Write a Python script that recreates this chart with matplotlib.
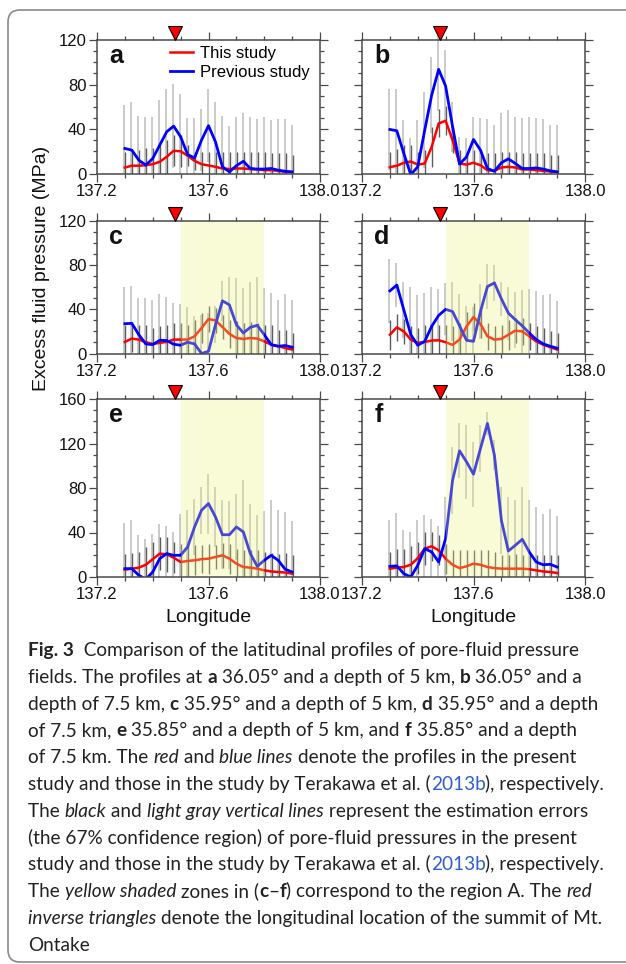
import numpy as np
import matplotlib
matplotlib.use('Agg')
import matplotlib.pyplot as plt
from matplotlib.ticker import MultipleLocator, FormatStrFormatter
from matplotlib.patches import FancyBboxPatch
from matplotlib.transforms import IdentityTransform, blended_transform_factory

plt.rcParams['font.family'] = ['Liberation Sans', 'DejaVu Sans']

# longitude grid of the profiles
lon = np.array([137.300, 137.325, 137.350, 137.375, 137.400, 137.425, 137.450, 137.475,
                137.500, 137.525, 137.550, 137.575, 137.600, 137.625, 137.650, 137.675,
                137.700, 137.725, 137.750, 137.775, 137.800, 137.825, 137.850, 137.875,
                137.900])
ontake = 137.48
region_a = (137.5, 137.8)

# (a) 36.05 deg, 5 km
a_this = [5.4, 7.0, 7.0, 7.5, 8.4, 10.5, 15.0, 20.4, 20.0, 16.0, 11.4, 8.4, 7.2, 6.0, 4.5,
          4.0, 4.5, 4.5, 4.0, 3.6, 3.0, 3.0, 2.4, 1.5, 1.2]
a_this_hi = [19.5, 20.4, 21.0, 22.5, 22.5, 25.5, 30.0, 34.5, 34.5, 25.5, 19.5, 19.5, 19.5,
             19.5, 19.5, 19.5, 19.5, 19.5, 19.5, 19.5, 19.0, 18.0, 18.0, 18.0, 16.5]
a_prev = [22.5, 21.0, 12.0, 7.5, 13.5, 25.5, 37.5, 42.6, 33.0, 17.0, 14.0, 30.0, 43.0, 28.5,
          6.0, 1.5, 7.0, 11.0, 4.5, 4.0, 4.0, 4.5, 3.0, 2.0, 1.5]
a_prev_hi = [62, 64.5, 51.6, 50.4, 51, 66, 76, 80.4, 71.4, 49.5, 49.5, 57.6, 76, 64, 51.6,
             43, 51, 54.6, 50.4, 49, 51, 48, 49, 48.6, 44]

# (b) 36.05 deg, 7.5 km
b_this = [5.7, 7.0, 9.6, 10.8, 8.0, 9.0, 24.0, 45.0, 47.4, 30.0, 9.0, 8.0, 9.6, 7.5, 3.0,
          2.4, 5.4, 6.0, 5.4, 3.6, 3.6, 3.0, 2.4, 1.8, 1.2]
b_this_hi = [19.5, 22, 25.5, 25.5, 19.5, 21, 42, 57.6, 60.6, 42, 21, 19.5, 21, 21, 18, 18,
             19.5, 19.5, 19.5, 18.6, 18.6, 18.6, 18, 16.5, 16.5]
b_prev = [39.6, 38.4, 18.0, -1.0, 6.0, 39.0, 70.5, 93.6, 78.6, 42.0, 8.4, 15.0, 30.6, 21.0,
          4.5, 2.0, 9.6, 13.2, 9.0, 4.5, 4.5, 5.0, 4.0, 2.4, 1.5]
b_prev_hi = [76, 76, 48, 31.5, 48, 73.5, 105, 131, 111, 64.5, 33, 31.5, 51, 49.5, 49, 44,
             54, 57, 51, 49.5, 51, 50, 49, 44, 44]

# (c) 35.95 deg, 5 km
c_this = [10.5, 13.5, 12.6, 10.2, 8.7, 9.6, 10.5, 12.6, 12.6, 12.6, 15.6, 23.0, 31.2, 30.0,
          24.0, 17.7, 14.0, 13.2, 14.0, 13.5, 11.0, 8.0, 6.6, 5.0, 3.6]
c_this_hi = [26, 26, 26, 26, 23, 25, 26, 27.6, 27.6, 25.5, 30.6, 36.6, 43.2, 41, 35, 30.6,
             29, 27.6, 28.2, 27.6, 26, 26, 21.6, 21.6, 18.6]
c_prev = [27.0, 27.3, 17.0, 8.7, 8.0, 12.0, 11.7, 8.4, 7.5, 10.2, 8.7, 0.0, 2.0, 26.0, 47.7,
          44.0, 26.0, 18.6, 23.7, 25.5, 17.0, 8.0, 6.6, 7.2, 5.7]
c_prev_hi = [60, 61.5, 50.7, 50.7, 48.6, 53.7, 51, 45.6, 44.7, 42, 33.6, 35, 36.6, 42.6,
             65.7, 69, 68, 59, 65, 69.6, 59, 54.6, 48.6, 53.7, 48.6]

# (d) 35.95 deg, 7.5 km
d_this = [17.0, 23.7, 20.0, 12.6, 9.6, 10.5, 11.7, 12.0, 10.2, 7.8, 12.6, 24.6, 33.0, 26.7,
          15.6, 12.6, 13.2, 17.0, 20.7, 20.0, 15.6, 11.0, 8.0, 5.7, 3.6]
d_this_hi = [30.6, 36, 31.5, 25, 23, 26, 26, 26, 26, 24.6, 27.6, 37.5, 45.6, 39.6, 27.6,
             24.6, 26, 30.6, 32, 32, 27.6, 24.6, 23, 20.7, 19]
d_prev = [56.7, 62.0, 39.6, 17.0, 7.5, 11.0, 24.6, 34.5, 40.0, 38.0, 25.0, 12.0, 11.0, 38.0,
          60.6, 64.0, 49.5, 36.6, 30.6, 25.0, 18.6, 12.6, 8.7, 6.6, 4.8]
d_prev_hi = [86, 82, 65, 60, 53, 55, 60, 58.5, 63.6, 65, 53.7, 43, 42, 62.7, 80.7, 80, 65,
             60.6, 56, 57.6, 58, 57, 53, 53.7, 47.7]

# (e) 35.85 deg, 5 km
e_this = [6.6, 7.5, 8.4, 11.0, 16.0, 21.0, 20.4, 17.4, 13.5, 14.4, 15.0, 16.0, 16.5, 18.0,
          19.5, 16.5, 12.0, 9.0, 8.4, 7.5, 6.0, 5.0, 4.5, 4.0, 3.0]
e_this_hi = [21, 21.6, 22.5, 27, 31.5, 36, 36, 31.5, 30, 30, 28.5, 28.5, 30, 28.5, 30.6, 30,
             25.5, 24, 24.6, 24, 22.5, 21.6, 21, 21.6, 19.5]
e_prev = [7.5, 7.5, 1.5, -2.0, 4.5, 16.5, 21.0, 19.5, 19.5, 27.0, 45.0, 60.0, 66.0, 54.0,
          38.0, 38.0, 45.0, 40.5, 21.0, 9.6, 15.0, 19.5, 15.0, 7.0, 4.5]
e_prev_hi = [48.6, 51, 37.5, 34.5, 38.4, 48, 46, 40.5, 57, 60, 70.5, 81, 93, 81, 69, 68.4,
             75, 87, 66, 55.5, 59, 69, 60, 58, 50.4]

# (f) 35.85 deg, 7.5 km
f_this = [7.5, 8.4, 9.0, 11.0, 17.0, 25.5, 27.6, 24.0, 16.5, 11.0, 8.0, 9.6, 12.0, 11.0, 9.0,
          8.0, 7.5, 7.5, 7.5, 7.5, 7.0, 6.0, 5.0, 4.5, 3.6]
f_this_hi = [22.5, 25.5, 25.5, 27.6, 31.5, 40.5, 40.5, 37.5, 30, 24, 24, 24, 24, 24, 24,
             22.5, 19.5, 19.5, 21, 19.5, 21, 20, 19.5, 19.5, 19.5]
f_prev = [9.6, 10.0, 3.0, 0.0, 10.5, 25.5, 22.5, 13.5, 34.5, 87.0, 113.4, 103.5, 92.4, 115.5,
          138.0, 109.5, 51.0, 23.4, 28.5, 33.9, 22.5, 13.5, 11.0, 11.4, 9.0]
f_prev_hi = [51.6, 57.6, 42, 40.5, 51, 55.5, 52.5, 46, 72, 117, 138, 136.5, 121.5, 136.5,
             148.5, 123, 81, 72, 69, 81, 69, 63, 57, 61.5, 54.6]

W, H = 626, 964
fig = plt.figure(figsize=(W / 100, H / 100), dpi=100)

cols = [(97, 320), (362, 585)]
rows = [(40, 173.5, 120), (221, 353.5, 120), (399, 577, 160)]

panels = [
    ('a', a_this, a_this_hi, a_prev, a_prev_hi, False),
    ('b', b_this, b_this_hi, b_prev, b_prev_hi, False),
    ('c', c_this, c_this_hi, c_prev, c_prev_hi, True),
    ('d', d_this, d_this_hi, d_prev, d_prev_hi, True),
    ('e', e_this, e_this_hi, e_prev, e_prev_hi, True),
    ('f', f_this, f_this_hi, f_prev, f_prev_hi, True),
]

SPINE = '#4a4a4a'

for k, (letter, this, this_hi, prev, prev_hi, shade) in enumerate(panels):
    r, c = divmod(k, 2)
    l, rr = cols[c]
    t, b, ymax = rows[r]
    ax = fig.add_axes([l / W, 1 - b / H, (rr - l) / W, (b - t) / H])
    this, this_hi = np.array(this), np.array(this_hi)
    prev, prev_hi = np.array(prev), np.array(prev_hi)

    # error bars (symmetric about the profile, cut at zero)
    ax.vlines(lon - 0.002, np.clip(2 * prev - prev_hi, 0, None), prev_hi,
              color='#c6c6c6', lw=1.3, zorder=1, clip_on=False)
    ax.vlines(lon + 0.002, np.clip(2 * this - this_hi, 0, None), this_hi,
              color='#5c5c5c', lw=1.0, zorder=2)
    l1, = ax.plot(lon, this, color='#ff0000', lw=1.8, zorder=3)
    l2, = ax.plot(lon, prev, color='#0000ff', lw=2.0, zorder=4)
    if shade:
        ax.axvspan(*region_a, color='#e8f274', alpha=0.3, lw=0, zorder=5)

    ax.set_xlim(137.2, 138.0)
    ax.set_ylim(0, ymax)
    ax.set_xticks([137.2, 137.6, 138.0])
    ax.xaxis.set_minor_locator(MultipleLocator(0.1))
    ax.xaxis.set_major_formatter(FormatStrFormatter('%.1f'))
    ax.yaxis.set_major_locator(MultipleLocator(40))
    ax.yaxis.set_minor_locator(MultipleLocator(10))
    ax.tick_params(which='both', direction='out', top=True, right=True,
                   color=SPINE, width=0.9, labelsize=12, pad=1.5, labelcolor='#111')
    ax.tick_params(which='major', length=6)
    ax.tick_params(which='minor', length=3)
    if c == 1:
        ax.tick_params(labelleft=False)
    for sp in ax.spines.values():
        sp.set_color(SPINE)
        sp.set_linewidth(1.1)
        sp.set_zorder(8)

    hpx = b - t
    ax.text(0.055, 1 - 4 / hpx, letter, transform=ax.transAxes, va='top', ha='left',
            fontsize=18, fontweight='bold', color='#111', zorder=9)
    tr = blended_transform_factory(ax.transData, ax.transAxes)
    ax.plot([ontake], [1 + 7 / hpx], marker='v', ms=9.5, mfc='#ff0000', mec='black',
            mew=0.8, transform=tr, clip_on=False, zorder=10)

    if letter == 'a':
        ax.legend([l1, l2], ['This study', 'Previous study'], loc='upper right',
                  bbox_to_anchor=(1.0, 1.03), frameon=False, fontsize=12,
                  handlelength=1.35, handletextpad=0.45, labelspacing=0.25,
                  borderaxespad=0.2)

    if r == 2:
        fig.text((l + rr) / 2 / W, 1 - 617 / H, 'Longitude', ha='center', va='center',
                 fontsize=14, color='#111')

fig.text(42 / W, 1 - 268 / H, 'Excess fluid pressure (MPa)', rotation=90,
         ha='center', va='center', fontsize=14, color='#111')

# frame around figure and caption
frame = FancyBboxPatch((8, 2), 700, 952, boxstyle='round,pad=0,rounding_size=12',
                       transform=IdentityTransform(), fill=False, ec='#8a8a8a', lw=1.2)
fig.add_artist(frame)

# caption with mixed styles
CAP_FONT = ['Lato', 'DejaVu Sans']
LINK = '#2f5fd0'
renderer = fig.canvas.get_renderer()


def style(code, fs):
    kw = dict(fontsize=fs, family=CAP_FONT, color='#222222')
    if 'b' in code:
        kw['fontweight'] = 'bold'
    if 'i' in code:
        kw['fontstyle'] = 'italic'
    if 'l' in code:
        kw['color'] = LINK
    return kw


def seg_width(s, kw):
    t1 = fig.text(0, 0, s + '|', **kw)
    w1 = t1.get_window_extent(renderer).width
    t1.remove()
    t2 = fig.text(0, 0, '|', **kw)
    w2 = t2.get_window_extent(renderer).width
    t2.remove()
    return w1 - w2


caption = [
    [('Fig. 3', 'b'), ('  Comparison of the latitudinal profiles of pore-fluid pressure', 'n')],
    [('fields. The profiles at ', 'n'), ('a', 'b'), (' 36.05° and a depth of 5 km, ', 'n'),
     ('b', 'b'), (' 36.05° and a', 'n')],
    [('depth of 7.5 km, ', 'n'), ('c', 'b'), (' 35.95° and a depth of 5 km, ', 'n'),
     ('d', 'b'), (' 35.95° and a depth', 'n')],
    [('of 7.5 km, ', 'n'), ('e', 'b'), (' 35.85° and a depth of 5 km, and ', 'n'),
     ('f', 'b'), (' 35.85° and a depth', 'n')],
    [('of 7.5 km. The ', 'n'), ('red', 'i'), (' and ', 'n'), ('blue lines', 'i'),
     (' denote the profiles in the present', 'n')],
    [('study and those in the study by Terakawa et al. (', 'n'), ('2013b', 'l'),
     ('), respectively.', 'n')],
    [('The ', 'n'), ('black', 'i'), (' and ', 'n'), ('light gray vertical lines', 'i'),
     (' represent the estimation errors', 'n')],
    [('(the 67% confidence region) of pore-fluid pressures in the present', 'n')],
    [('study and those in the study by Terakawa et al. (', 'n'), ('2013b', 'l'),
     ('), respectively.', 'n')],
    [('The ', 'n'), ('yellow shaded', 'i'), (' zones in (', 'n'), ('c', 'b'), ('–', 'n'),
     ('f', 'b'), (') correspond to the region A. The ', 'n'), ('red', 'i')],
    [('inverse triangles', 'i'), (' denote the longitudinal location of the summit of Mt.', 'n')],
    [('Ontake', 'n')],
]

# pick the caption size so that the widest line just fits the text block
base = 14.0
widths = [sum(seg_width(s, style(cd, base)) for s, cd in line) for line in caption]
cap_fs = base * (606 - 28) / max(widths)

y0 = 656
for i, line in enumerate(caption):
    x = 28
    y = H - (y0 + i * 26.8)
    for s, cd in line:
        kw = style(cd, cap_fs)
        fig.text(x, y, s, transform=IdentityTransform(), va='baseline', ha='left', **kw)
        x += seg_width(s, kw)

fig.savefig('out.png', dpi=100)
